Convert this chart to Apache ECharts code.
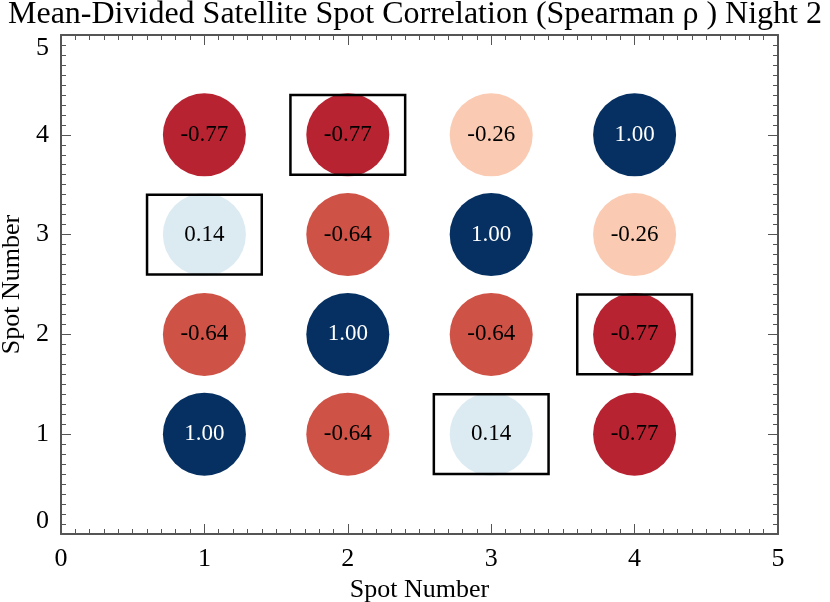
<!DOCTYPE html>
<html>
<head>
<meta charset="utf-8">
<script src="https://cdn.jsdelivr.net/npm/echarts@6/dist/echarts.min.js"></script>
<style>
  html, body { margin: 0; padding: 0; background: #fff; }
  #chart { width: 830px; height: 602px; }
</style>
</head>
<body>
<div id="chart"></div>
<script>
// spot numbers along both axes
var spots = [1, 2, 3, 4];
// correlation rows, bottom (spot 1) to top (spot 4)
var row1 = [1.00, -0.64, 0.14, -0.77];
var row2 = [-0.64, 1.00, -0.64, -0.77];
var row3 = [0.14, -0.64, 1.00, -0.26];
var row4 = [-0.77, -0.77, -0.26, 1.00];
var rows = [row1, row2, row3, row4];
// highlighted cells [x, y]
var boxes = [[2, 4], [1, 3], [4, 2], [3, 1]];
var axisTicks = [0, 1, 2, 3, 4, 5];

var rdbu = ["#67001f", "#b2182b", "#d6604d", "#f4a582", "#fddbc7", "#f7f7f7",
            "#d1e5f0", "#92c5de", "#4393c3", "#2166ac", "#053061"];

var points = [];
rows.forEach(function (r, j) {
  r.forEach(function (v, i) {
    points.push({
      value: [spots[i], spots[j], v],
      label: { color: v > 0.5 ? "#fff" : "#000" } // white on the dark cells
    });
  });
});

var serif = "Liberation Serif";
var axisColor = "#555";

var chartDom = document.getElementById("chart");
var myChart = echarts.init(chartDom, null, { renderer: "canvas" });

function valueAxis(show, pos, name) {
  var ax = {
    type: "value",
    position: pos,
    min: axisTicks[0],
    max: axisTicks[axisTicks.length - 1],
    interval: 1,
    name: name,
    nameLocation: "middle",
    nameGap: pos === "bottom" ? 40 : 34,
    nameTextStyle: { fontFamily: serif, fontSize: 26, color: "#000" },
    axisLine: { show: true, onZero: false, lineStyle: { color: axisColor, width: 2 } },
    axisTick: { show: true, inside: true, length: 10, lineStyle: { color: axisColor, width: 1 } },
    minorTick: { show: true, splitNumber: 10, length: 5, lineStyle: { color: axisColor, width: 1 } },
    axisLabel: { show: show, fontFamily: serif, fontSize: 26, color: "#000", margin: 12 },
    splitLine: { show: false }
  };
  if (pos === "left") {
    // end labels sit inside the frame, like the original plot
    ax.axisLabel.verticalAlignMinLabel = "bottom";
    ax.axisLabel.verticalAlignMaxLabel = "top";
  }
  return ax;
}

var option = {
  backgroundColor: "#fff",
  animation: false,
  title: {
    text: "Mean-Divided Satellite Spot Correlation (Spearman ρ ) Night 2",
    left: "center",
    top: -6,
    textStyle: { fontFamily: serif, fontSize: 32, fontWeight: "normal", color: "#000" }
  },
  grid: { left: 61, right: 52, top: 35, bottom: 68, containLabel: false, outerBoundsMode: "none" },
  xAxis: [valueAxis(true, "bottom", "Spot Number"), valueAxis(false, "top", "")],
  yAxis: [valueAxis(true, "left", "Spot Number"), valueAxis(false, "right", "")],
  visualMap: {
    show: false,
    type: "continuous",
    seriesIndex: 0,
    dimension: 2,
    min: -1,
    max: 1,
    inRange: { color: rdbu }
  },
  series: [
    {
      type: "scatter",
      data: points,
      symbol: "circle",
      symbolSize: 83,
      itemStyle: { opacity: 1 },
      label: {
        show: true,
        position: "inside",
        fontFamily: serif,
        fontSize: 23,
        formatter: function (p) { return p.value[2].toFixed(2); }
      },
      z: 2
    },
    {
      type: "custom",
      data: boxes,
      renderItem: function (params, api) {
        var x = api.value(0), y = api.value(1);
        var p0 = api.coord([x - 0.4, y + 0.4]);
        var p1 = api.coord([x + 0.4, y - 0.4]);
        return {
          type: "rect",
          shape: { x: p0[0], y: p0[1], width: p1[0] - p0[0], height: p1[1] - p0[1] },
          style: { fill: "none", stroke: "#000", lineWidth: 2.5 }
        };
      },
      z: 3
    }
  ]
};

option && myChart.setOption(option);
</script>
</body>
</html>
